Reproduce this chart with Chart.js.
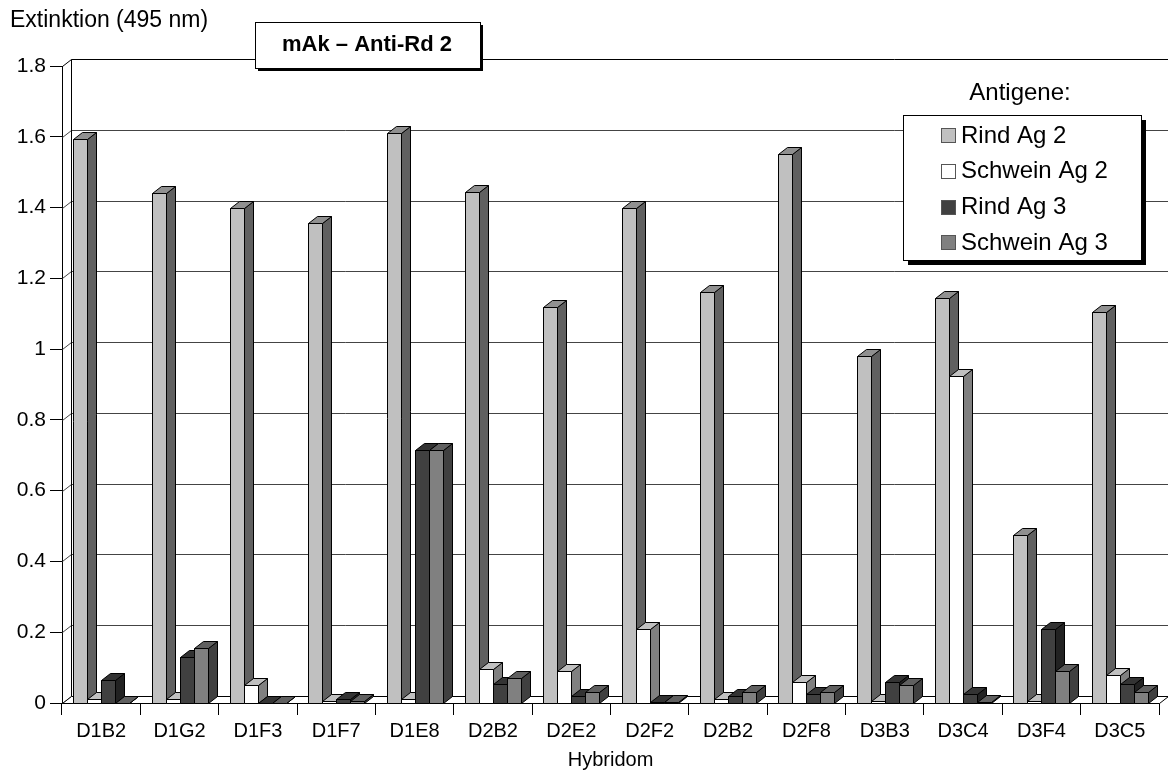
<!DOCTYPE html>
<html>
<head>
<meta charset="utf-8">
<title>mAk – Anti-Rd 2</title>
<script src="https://cdn.jsdelivr.net/npm/chart.js@4.4.1/dist/chart.umd.min.js"></script>
<style>
  html, body { margin: 0; padding: 0; background: #fff; }
  canvas { display: block; }
</style>
</head>
<body>
<canvas id="chart" width="1168" height="778"></canvas>
<script>
// Hybridome und gemessene Extinktion je Antigen
const hybridome = ['D1B2', 'D1G2', 'D1F3', 'D1F7', 'D1E8', 'D2B2', 'D2E2', 'D2F2', 'D2B2', 'D2F8', 'D3B3', 'D3C4', 'D3F4', 'D3C5'];
const rindAg2    = [1.595, 1.44, 1.40, 1.355, 1.61, 1.445, 1.12, 1.40, 1.16, 1.55, 0.98, 1.145, 0.475, 1.105];
const schweinAg2 = [0.01, 0.01, 0.05, 0.005, 0.01, 0.095, 0.09, 0.21, 0.01, 0.06, 0.005, 0.925, 0.005, 0.08];
const rindAg3    = [0.065, 0.13, 0, 0.01, 0.715, 0.055, 0.02, 0.003, 0.02, 0.025, 0.06, 0.025, 0.21, 0.055];
const schweinAg3 = [0, 0.155, 0, 0.005, 0.715, 0.07, 0.03, 0.002, 0.03, 0.03, 0.05, 0.003, 0.09, 0.03];
const serien = ['Rind Ag 2', 'Schwein Ag 2', 'Rind Ag 3', 'Schwein Ag 3'];

const yMin = 0, yMax = 1.8, yStep = 0.2;

const FONT = '"Liberation Sans", Arial, sans-serif';
// Front-, Seiten- und Deckfläche der Säulen
const farben = [
    { front: '#c0c0c0', side: '#606060', top: '#909090' },
    { front: '#ffffff', side: '#808080', top: '#c0c0c0' },
    { front: '#404040', side: '#222222', top: '#333333' },
    { front: '#808080', side: '#404040', top: '#606060' }
];
const DX = 9, DY = -7;   // Tiefe der 3D-Darstellung

function poly(ctx, pts, fill) {
    ctx.beginPath();
    ctx.moveTo(pts[0][0], pts[0][1]);
    for (let i = 1; i < pts.length; i++) ctx.lineTo(pts[i][0], pts[i][1]);
    ctx.closePath();
    ctx.fillStyle = fill;
    ctx.fill();
    ctx.stroke();
}

const saeulen3d = {
    id: 'saeulen3d',
    beforeDatasetsDraw(chart) {
        const ctx = chart.ctx;
        const { left, right, top, bottom } = chart.chartArea;
        const y = chart.scales.y;
        ctx.save();
        ctx.lineWidth = 1;

        // Rückwand mit Gitterlinien und linke Seitenwand
        for (let v = yMin; v <= yMax + 1e-9; v += yStep) {
            const py = Math.round(y.getPixelForValue(v)) + 0.5;
            ctx.strokeStyle = v >= yMax - 1e-9 ? '#000' : '#444';
            ctx.beginPath();
            ctx.moveTo(left + 0.5, py);
            ctx.lineTo(left + DX + 0.5, py + DY);
            ctx.lineTo(right + DX + 0.5, py + DY);
            ctx.stroke();
        }
        ctx.strokeStyle = '#000';
        ctx.beginPath();
        ctx.moveTo(left + DX + 0.5, Math.round(top) + DY + 0.5);
        ctx.lineTo(left + DX + 0.5, Math.round(bottom) + DY + 0.5);
        ctx.stroke();

        // Boden
        const b = Math.round(bottom) + 0.5;
        poly(ctx, [[left + 0.5, b], [right + 0.5, b], [right + DX + 0.5, b + DY], [left + DX + 0.5, b + DY]], '#fff');

        // Säulen von links nach rechts, damit die Frontflächen die Seiten verdecken
        const metas = chart.data.datasets.map((d, i) => chart.getDatasetMeta(i));
        for (let i = 0; i < hybridome.length; i++) {
            metas.forEach((meta, d) => {
                const bar = meta.data[i].getProps(['x', 'y', 'base', 'width'], true);
                const l = Math.round(bar.x - bar.width / 2) + 0.5;
                const r = Math.round(bar.x + bar.width / 2) + 0.5;
                const t = Math.round(bar.y) + 0.5;
                const bo = Math.round(bar.base) + 0.5;
                const f = farben[d];
                ctx.strokeStyle = '#000';
                poly(ctx, [[l, t], [r, t], [r, bo], [l, bo]], f.front);
                poly(ctx, [[r, bo], [r + DX, bo + DY], [r + DX, t + DY], [r, t]], f.side);
                poly(ctx, [[l, t], [l + DX, t + DY], [r + DX, t + DY], [r, t]], f.top);
            });
        }
        ctx.restore();
        return false;
    },
    afterDraw(chart) {
        const ctx = chart.ctx;
        ctx.save();
        ctx.lineWidth = 1;
        ctx.strokeStyle = '#000';
        ctx.fillStyle = '#000';

        // Achsentitel oben links
        ctx.font = '23px ' + FONT;
        ctx.textAlign = 'left';
        ctx.textBaseline = 'middle';
        ctx.fillText('Extinktion (495 nm)', 10, 21);

        // Titelkasten mit Schatten
        ctx.fillRect(258, 25, 225, 46);
        ctx.fillStyle = '#fff';
        ctx.fillRect(255, 22, 225, 46);
        ctx.strokeRect(255.5, 22.5, 225, 46);
        ctx.fillStyle = '#000';
        ctx.font = 'bold 22px ' + FONT;
        ctx.textAlign = 'center';
        ctx.fillText('mAk – Anti-Rd 2', 367, 45);

        // Legende
        ctx.font = '24px ' + FONT;
        ctx.fillText('Antigene:', 1020, 93);
        ctx.fillRect(908, 120, 238, 145);
        ctx.fillStyle = '#fff';
        ctx.fillRect(903, 115, 238, 145);
        ctx.strokeRect(903.5, 115.5, 238, 145);
        ctx.textAlign = 'left';
        serien.forEach((name, i) => {
            const cy = 135 + i * 35.8;
            ctx.fillStyle = farben[i].front;
            ctx.fillRect(941, Math.round(cy - 7), 14, 14);
            ctx.strokeStyle = '#555';
            ctx.strokeRect(941.5, Math.round(cy - 7) + 0.5, 14, 14);
            ctx.fillStyle = '#000';
            ctx.fillText(name, 961, cy + 1);
        });
        ctx.restore();
    }
};

new Chart(document.getElementById('chart'), {
    type: 'bar',
    data: {
        labels: hybridome,
        datasets: [rindAg2, schweinAg2, rindAg3, schweinAg3].map((werte, i) => ({
            label: serien[i],
            data: werte,
            backgroundColor: farben[i].front,
            borderColor: '#000',
            borderWidth: 1,
            barPercentage: 1,
            categoryPercentage: 0.715
        }))
    },
    options: {
        responsive: false,
        animation: false,
        devicePixelRatio: 1,
        layout: { padding: { top: 66, right: 9, left: 0, bottom: 0 } },
        plugins: {
            legend: { display: false },
            title: { display: false },
            tooltip: { enabled: false }
        },
        scales: {
            y: {
                min: yMin,
                max: yMax,
                ticks: {
                    stepSize: yStep,
                    color: '#000',
                    padding: 4,
                    font: { size: 21, family: FONT },
                    callback: v => String(+v.toFixed(1))
                },
                grid: { drawOnChartArea: false, drawTicks: true, tickLength: 12, color: '#000' },
                border: { color: '#000' },
                afterFit: s => { s.width = 62; }
            },
            x: {
                ticks: {
                    color: '#000',
                    padding: 4,
                    maxRotation: 0,
                    autoSkip: false,
                    font: { size: 20, family: FONT }
                },
                grid: { drawOnChartArea: false, drawTicks: true, tickLength: 12, color: '#000', offset: true },
                border: { color: '#000' },
                title: {
                    display: true,
                    text: 'Hybridom',
                    color: '#000',
                    font: { size: 20, family: FONT },
                    padding: { top: 2, bottom: 6 }
                },
                afterFit: s => { s.height = 75; }
            }
        }
    },
    plugins: [saeulen3d]
});
</script>
</body>
</html>
